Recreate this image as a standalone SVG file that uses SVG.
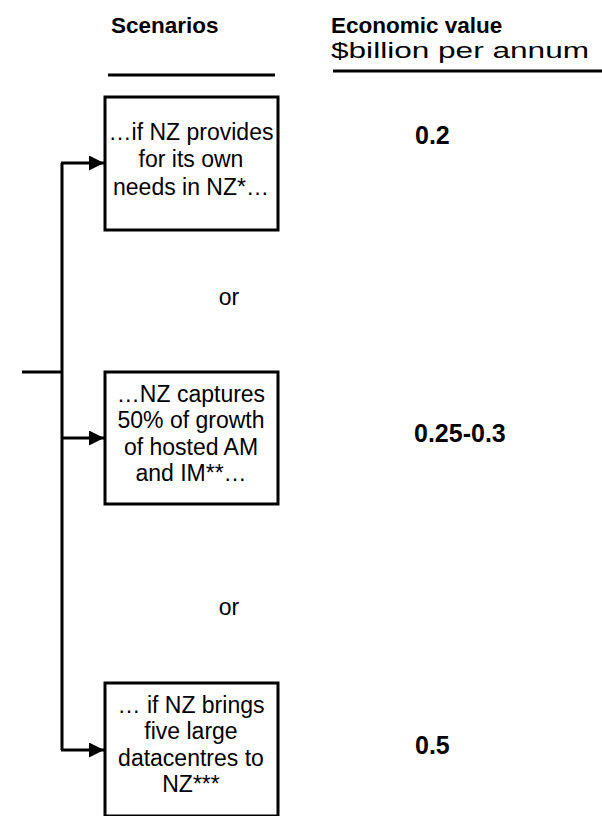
<svg xmlns="http://www.w3.org/2000/svg" width="602" height="816" viewBox="0 0 602 816">
  <style>
    text { font-family: "Liberation Sans", Arial, sans-serif; fill: #000; }
    .head { font-size: 22.5px; font-weight: bold; }
    .sub { font-size: 22px; }
    .body { font-size: 23px; text-anchor: middle; }
    .val { font-size: 25px; font-weight: bold; }
    .box { fill: #fff; stroke: #000; stroke-width: 3; }
    .wire { fill: none; stroke: #000; stroke-width: 3; }
  </style>
  <defs>
    <marker id="arrow" viewBox="0 0 10 10" refX="10" refY="5" markerWidth="5" markerHeight="5" markerUnits="strokeWidth" orient="auto">
      <path d="M0,0 L10,5 L0,10 Z" fill="#000"/>
    </marker>
  </defs>

  <!-- column headings -->
  <g id="headings">
    <text class="head" x="111" y="33">Scenarios</text>
    <text class="head" x="331" y="33">Economic value</text>
    <text class="sub" x="331" y="58" textLength="258" lengthAdjust="spacingAndGlyphs">$billion per annum</text>
    <line x1="108" y1="75" x2="275" y2="75" stroke="#000" stroke-width="3"/>
    <line x1="333" y1="71" x2="602" y2="71" stroke="#000" stroke-width="3"/>
  </g>

  <!-- connectors -->
  <g id="connectors">
    <line class="wire" x1="22" y1="372" x2="62" y2="372"/>
    <line class="wire" x1="62" y1="163" x2="62" y2="750"/>
    <line class="wire" x1="61" y1="163" x2="104" y2="163" marker-end="url(#arrow)"/>
    <line class="wire" x1="62" y1="438" x2="104" y2="438" marker-end="url(#arrow)"/>
    <line class="wire" x1="61" y1="750" x2="104" y2="750" marker-end="url(#arrow)"/>
  </g>

  <g id="scenario-1">
    <rect class="box" x="105" y="97" width="173" height="133"/>
    <text class="body" x="191" y="140">…if NZ provides</text>
    <text class="body" x="191" y="167">for its own</text>
    <text class="body" x="191" y="195">needs in NZ*…</text>
  </g>

  <text class="body" x="229" y="305">or</text>

  <g id="scenario-2">
    <rect class="box" x="105" y="372" width="173" height="132"/>
    <text class="body" x="191" y="402">…NZ captures</text>
    <text class="body" x="191" y="428">50% of growth</text>
    <text class="body" x="191" y="455">of hosted AM</text>
    <text class="body" x="191" y="481">and IM**…</text>
  </g>

  <text class="body" x="229" y="615">or</text>

  <g id="scenario-3">
    <rect class="box" x="105" y="683" width="173" height="133"/>
    <text class="body" x="191" y="713">… if NZ brings</text>
    <text class="body" x="191" y="739">five large</text>
    <text class="body" x="191" y="766">datacentres to</text>
    <text class="body" x="191" y="792">NZ***</text>
  </g>

  <g id="values">
    <text class="val" x="415" y="144">0.2</text>
    <text class="val" x="414" y="442">0.25-0.3</text>
    <text class="val" x="415" y="754">0.5</text>
  </g>
</svg>
